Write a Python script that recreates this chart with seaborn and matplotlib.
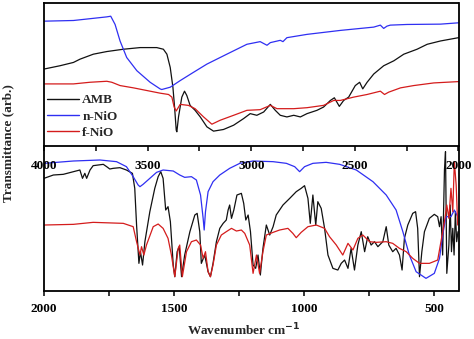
import numpy as np
import pandas as pd
import matplotlib
matplotlib.use("Agg")
import matplotlib.pyplot as plt
import seaborn as sns
from matplotlib.lines import Line2D
from matplotlib.ticker import MultipleLocator

# ---------------- data (wavenumber cm-1, transmittance arb.) ----------------
# upper panel: 4000 -> 2000 cm-1
top_amb_w = [4000, 3923, 3858, 3826, 3762, 3697, 3617, 3536, 3456, 3424, 3407, 3391, 3378, 3370, 3362, 3359,
             3351, 3335, 3322, 3311, 3295, 3271, 3246, 3214, 3182, 3134, 3085, 3037, 3005, 2973, 2940, 2908,
             2884, 2860, 2828, 2795, 2763, 2731, 2683, 2651, 2618, 2599, 2575, 2554, 2530, 2498, 2477, 2462,
             2441, 2409, 2361, 2312, 2264, 2200, 2151, 2087, 2000]
top_amb_t = [245, 255, 265, 275, 290, 298, 305, 310, 310, 305, 290, 250, 190, 130, 60, 55,
             100, 160, 178, 165, 135, 120, 100, 70, 57, 62, 75, 95, 110, 105, 115, 138,
             120, 105, 100, 105, 100, 110, 120, 130, 150, 158, 132, 150, 160, 195, 205, 185,
             205, 230, 255, 270, 290, 305, 320, 330, 340]

top_nnio_w = [4000, 3858, 3697, 3678, 3657, 3633, 3601, 3552, 3488, 3440, 3432, 3391, 3343, 3279, 3214, 3118,
              3021, 2957, 2924, 2908, 2860, 2847, 2828, 2731, 2570, 2409, 2377, 2361, 2345, 2329, 2248, 2087, 2000]
top_nnio_t = [390, 392, 403, 405, 380, 330, 280, 240, 205, 185, 183, 190, 210, 235, 260, 290,
              320, 328, 317, 325, 332, 328, 340, 350, 362, 372, 378, 368, 375, 378, 380, 381, 385]

top_fnio_w = [4000, 3858, 3778, 3697, 3673, 3633, 3568, 3504, 3440, 3399, 3383, 3372, 3362, 3343, 3303, 3271,
              3230, 3190, 3150, 3085, 3021, 2957, 2908, 2876, 2795, 2731, 2651, 2602, 2570, 2506, 2441, 2377,
              2357, 2337, 2280, 2216, 2119, 2000]
top_fnio_t = [200, 200, 205, 208, 205, 195, 188, 180, 172, 168, 160, 130, 118, 138, 135, 125,
              100, 78, 90, 105, 120, 122, 135, 125, 125, 128, 135, 150, 150, 160, 168, 178,
              168, 175, 188, 195, 203, 207]

# lower panel: 2000 -> 406 cm-1
bot_amb_w = [2000, 1964, 1926, 1887, 1862, 1852, 1843, 1836, 1823, 1811, 1772, 1759, 1747, 1734, 1708, 1683,
             1660, 1651, 1644, 1635, 1629, 1621, 1612, 1593, 1574, 1561, 1551, 1542, 1532, 1523, 1514, 1503,
             1497, 1488, 1480, 1471, 1459, 1439, 1420, 1411, 1401, 1395, 1382, 1369, 1360, 1350, 1337, 1324,
             1311, 1299, 1292, 1286, 1279, 1270, 1258, 1241, 1232, 1224, 1215, 1206, 1196, 1186, 1177, 1168,
             1158, 1145, 1132, 1119, 1107, 1081, 1055, 1030, 1011, 998, 985, 976, 966, 955, 947, 934,
             921, 908, 889, 870, 857, 844, 831, 819, 806, 793, 780, 767, 755, 742, 729, 716,
             697, 684, 674, 659, 646, 633, 623, 614, 601, 582, 571, 563, 556, 547, 537, 518,
             499, 486, 479, 473, 467, 460, 456, 451, 443, 438, 433, 428, 423, 418, 413, 408]
bot_amb_t = [350, 360, 362, 370, 375, 350, 365, 350, 375, 388, 392, 385, 378, 380, 382, 375,
             365, 320, 210, 95, 130, 90, 160, 250, 320, 355, 370, 350, 255, 265, 220, 90,
             55, 130, 145, 55, 120, 190, 240, 245, 190, 95, 120, 70, 55, 95, 160, 200,
             215, 225, 255, 270, 230, 255, 300, 305, 275, 225, 240, 190, 90, 80, 120, 60,
             140, 210, 180, 205, 240, 270, 290, 310, 320, 328, 290, 215, 300, 210, 280, 260,
             200, 120, 80, 75, 95, 105, 80, 140, 75, 150, 190, 130, 175, 150, 160, 145,
             160, 205, 150, 130, 140, 120, 75, 170, 210, 245, 250, 200, 55, 130, 190, 230,
             242, 235, 205, 235, 120, 375, 430, 65, 150, 270, 130, 200, 120, 250, 160, 190]

bot_nnio_w = [2000, 1887, 1785, 1721, 1683, 1657, 1638, 1631, 1619, 1593, 1567, 1542, 1503, 1478, 1459, 1433,
              1414, 1398, 1388, 1384, 1379, 1369, 1350, 1324, 1286, 1247, 1196, 1119, 1068, 1036, 1017, 998,
              966, 915, 863, 799, 735, 684, 646, 620, 595, 569, 531, 499, 479, 467, 454, 435, 422, 409]
bot_nnio_t = [395, 402, 405, 400, 385, 355, 330, 325, 332, 350, 368, 375, 372, 360, 353, 355,
              345, 300, 230, 195, 250, 310, 340, 360, 380, 395, 402, 400, 395, 385, 370, 385,
              395, 398, 392, 375, 340, 300, 255, 190, 120, 70, 50, 65, 110, 180, 235, 235, 255, 235]

bot_fnio_w = [2000, 1887, 1811, 1695, 1657, 1644, 1631, 1625, 1616, 1606, 1580, 1561, 1542, 1523, 1510, 1497,
              1484, 1478, 1468, 1452, 1433, 1414, 1398, 1388, 1379, 1369, 1360, 1350, 1337, 1318, 1299, 1279,
              1260, 1241, 1228, 1209, 1196, 1183, 1171, 1158, 1145, 1119, 1094, 1062, 1043, 1030, 1011, 985,
              953, 921, 902, 876, 851, 831, 812, 793, 774, 748, 723, 684, 659, 633, 607, 582,
              556, 518, 486, 469, 460, 451, 443, 435, 428, 422, 415, 409]
bot_fnio_t = [210, 212, 218, 215, 205, 160, 120, 145, 120, 150, 205, 213, 200, 170, 120, 55,
              140, 150, 55, 130, 160, 165, 150, 110, 130, 70, 55, 90, 150, 180, 190, 200,
              192, 195, 185, 150, 65, 120, 65, 130, 180, 188, 195, 200, 185, 172, 188, 205,
              210, 200, 175, 150, 120, 155, 135, 170, 180, 160, 158, 160, 155, 140, 130, 110,
              95, 95, 105, 180, 220, 270, 230, 320, 250, 400, 330, 210]

samples = ["AMB", "n-NiO", "f-NiO"]
colors = {"AMB": "#111111", "n-NiO": "#2f2ff2", "f-NiO": "#d41c1c"}
top_ticks = [4000, 3500, 3000, 2500, 2000]
bot_ticks = [2000, 1500, 1000, 500]


def frame(ws, ts, name):
    return pd.DataFrame({"wavenumber": ws, "transmittance": ts, "sample": name})


df_top = pd.concat([frame(top_amb_w, top_amb_t, "AMB"),
                    frame(top_nnio_w, top_nnio_t, "n-NiO"),
                    frame(top_fnio_w, top_fnio_t, "f-NiO")], ignore_index=True)
df_bot = pd.concat([frame(bot_amb_w, bot_amb_t, "AMB"),
                    frame(bot_nnio_w, bot_nnio_t, "n-NiO"),
                    frame(bot_fnio_w, bot_fnio_t, "f-NiO")], ignore_index=True)

# ---------------- style ----------------
sns.set_style("ticks")
plt.rcParams["font.family"] = ["Liberation Serif", "DejaVu Serif"]
plt.rcParams["font.weight"] = "bold"
plt.rcParams["mathtext.default"] = "bf"

W, H = 474, 339
fig = plt.figure(figsize=(W / 100, H / 100), dpi=100)
fig.patch.set_facecolor("white")

ax1 = fig.add_axes([44 / W, (H - 146) / H, 414.5 / W, 143 / H])
ax2 = fig.add_axes([44 / W, (H - 290.7) / H, 414.5 / W, 144.7 / H])
ax2.patch.set_alpha(0)

for ax, df in ((ax1, df_top), (ax2, df_bot)):
    for s in samples:
        sns.lineplot(data=df[df["sample"] == s], x="wavenumber", y="transmittance",
                     color=colors[s], linewidth=0.9, estimator=None, sort=False,
                     ax=ax, legend=False)
    ax.set_xlabel("")
    ax.set_ylabel("")
    ax.set_yticks([])
    for sp in ax.spines.values():
        sp.set_linewidth(1.3)
        sp.set_color("black")

ax1.set_xlim(4000, 2000)
ax1.set_ylim(12, 445)
ax1.set_xticks(top_ticks)
ax1.xaxis.set_minor_locator(MultipleLocator(250))

ax2.set_xlim(2000, 406)
ax2.set_ylim(13, 447)
ax2.set_xticks(bot_ticks)
ax2.xaxis.set_minor_locator(MultipleLocator(250))
ax2.spines["top"].set_visible(False)

for ax, pad in ((ax1, 6.5), (ax2, 5)):
    ax.tick_params(axis="x", which="both", direction="out", length=3.5, width=1.1,
                   labelsize=9.5, pad=pad, colors="black")
    for lab in ax.get_xticklabels():
        lab.set_fontweight("bold")
ax1.set_zorder(3)
ax1.patch.set_alpha(0)

handles = [Line2D([], [], color=colors[s], linewidth=1.0) for s in samples]
leg = ax1.legend(handles, samples, loc="upper left", bbox_to_anchor=(-0.005, 0.40),
                 frameon=False, handlelength=2.4, handletextpad=0.25, labelspacing=0.3,
                 borderaxespad=0.0, prop={"family": "Liberation Serif", "weight": "bold", "size": 9.5})

fig.text(0.018, 0.577, "Transmittance (arb.)", rotation=90, ha="center", va="center",
         fontsize=9.5, fontweight="bold")
fig.text(0.515, 0.028, "Wavenumber cm$^{-1}$", ha="center", va="center",
         fontsize=9.5, fontweight="bold")

fig.savefig("out.png", dpi=100, facecolor="white")
